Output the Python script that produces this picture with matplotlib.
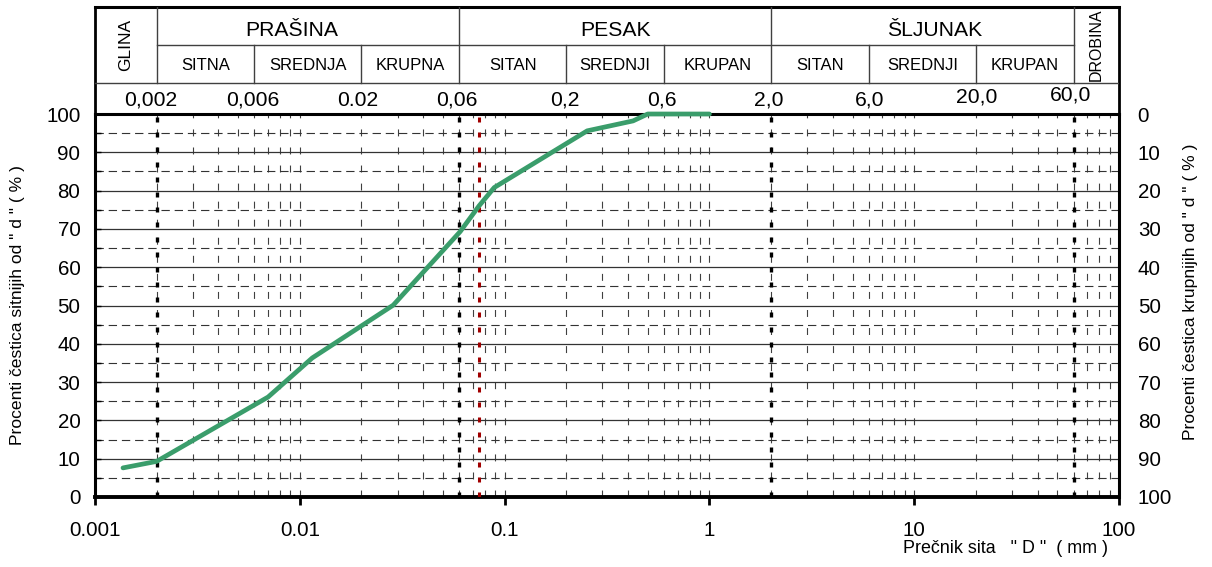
import numpy as np
import matplotlib
matplotlib.use('Agg')
import matplotlib.pyplot as plt
from matplotlib.ticker import FixedLocator, MultipleLocator, NullFormatter, LogLocator

plt.rcParams['font.family'] = ['Liberation Sans', 'DejaVu Sans']
plt.rcParams['lines.scale_dashes'] = False

# grain size curve
diameter_mm = [0.00137, 0.002, 0.0070, 0.0115, 0.0286, 0.0607, 0.075, 0.089, 0.253, 0.424, 0.50, 1.0]
passing_pct = [7.6, 9.3, 26.1, 36.3, 50.1, 69.3, 76.0, 80.8, 95.6, 98.2, 100.0, 100.0]

# classification header
bounds = [0.002, 0.006, 0.02, 0.06, 0.2, 0.6, 2.0, 6.0, 20.0, 60.0]
bound_labels = ['0,002', '0,006', '0.02', '0,06', '0,2', '0,6', '2,0', '6,0', '20,0', '60,0']
main_edges = [0.002, 0.06, 2.0, 60.0]
main_names = ['PRAŠINA', 'PESAK', 'ŠLJUNAK']
sub_names = ['SITNA', 'SREDNJA', 'KRUPNA', 'SITAN', 'SREDNJI', 'KRUPAN', 'SITAN', 'SREDNJI', 'KRUPAN']

x_ticks = [0.001, 0.01, 0.1, 1, 10, 100]
x_tick_labels = ['0.001', '0.01', '0.1', '1', '10', '100']
y_ticks = list(range(0, 101, 10))

dotted_black = [0.002, 0.06, 2.0, 60.0]
dotted_red = 0.075

W, H = 1212, 567
fig = plt.figure(figsize=(W / 100, H / 100), dpi=100)


def fx(px):
    return px / W


def fy(py):
    return 1 - py / H


# main chart
ax = fig.add_axes([fx(95), fy(497), fx(1119) - fx(95), fy(114) - fy(497)])
ax.set_xscale('log')
ax.set_xlim(0.001, 100)
ax.set_ylim(0, 100)

ax.xaxis.set_major_locator(FixedLocator(x_ticks))
ax.xaxis.set_minor_locator(LogLocator(base=10, subs=np.arange(2, 10)))
ax.xaxis.set_minor_formatter(NullFormatter())
ax.set_xticklabels(x_tick_labels)
ax.yaxis.set_major_locator(FixedLocator(y_ticks))
ax.yaxis.set_minor_locator(MultipleLocator(5))

ax.grid(which='both', axis='x', color='#404040', lw=0.8, ls=(0, (5, 8)))
ax.grid(which='major', axis='y', color='#333333', lw=0.9, ls='-')
ax.grid(which='minor', axis='y', color='#333333', lw=0.8, ls=(0, (6, 3.5)))

ax.tick_params(axis='x', which='major', direction='out', length=6, width=2,
               labelsize=14.8, pad=11.5)
ax.tick_params(axis='x', which='minor', length=0)
ax.tick_params(axis='y', which='both', direction='in', length=4, width=1,
               labelsize=14.8, pad=10.5)

for s in ax.spines.values():
    s.set_linewidth(2.2)
ax.spines['bottom'].set_linewidth(2.8)

for b in dotted_black:
    ax.axvline(b, color='black', lw=2.4, ls=(0, (3.6, 7.2)), zorder=3)
ax.axvline(dotted_red, color='#a00000', lw=2.2, ls=(0, (3.6, 7.2)), zorder=3)

ax.plot(diameter_mm, passing_pct, color='#3a9d6b', lw=3.4,
        solid_joinstyle='round', solid_capstyle='round', zorder=6, clip_on=False)

# right axis: percent coarser
ax2 = ax.twinx()
ax2.set_ylim(100, 0)
ax2.yaxis.set_major_locator(FixedLocator(y_ticks))
ax2.tick_params(axis='y', length=0, labelsize=14.8, pad=13.5)
for s in ax2.spines.values():
    s.set_visible(False)

# header table
hx = fig.add_axes([fx(95), fy(114), fx(1119) - fx(95), fy(7) - fy(114)])
hx.set_xscale('log')
hx.set_xlim(0.001, 100)
hx.set_ylim(0, 107)
hx.axis('off')

lc = '#404040'
hx.plot([0.001, 100], [107, 107], color='black', lw=2.2, clip_on=False)
hx.plot([0.001, 0.001], [0, 107], color='black', lw=2.0, clip_on=False)
hx.plot([100, 100], [0, 107], color='black', lw=2.0, clip_on=False)
hx.plot([0.001, 100], [31, 31], color=lc, lw=1.0)
hx.plot([main_edges[0], main_edges[-1]], [69, 69], color=lc, lw=1.0)
for b in bounds:
    top = 107 if b in main_edges else 69
    hx.plot([b, b], [31, top], color=lc, lw=1.0)

main_dx = [-16, 0, 12]
for name, a, b, dx in zip(main_names, main_edges[:-1], main_edges[1:], main_dx):
    hx.annotate(name, (np.sqrt(a * b), 83), xytext=(dx * 0.72, 0),
                textcoords='offset points', ha='center', va='center', fontsize=15.2)

for name, a, b in zip(sub_names, bounds[:-1], bounds[1:]):
    hx.text(np.sqrt(a * b), 49, name, ha='center', va='center', fontsize=12)

hx.text(np.sqrt(0.001 * 0.002), 69, 'GLINA', rotation=90, ha='center', va='center', fontsize=12.5)
hx.text(np.sqrt(60 * 100), 69, 'DROBINA', rotation=90, ha='center', va='center', fontsize=11.5)

num_dx = [-6, -2, -4, -2, -1, -2, -2, 1, 1, -3]
num_dy = [0, 0, 0, 0, 0, 0, 0, 0, 3, 5]
for b, lab, dx, dy in zip(bounds, bound_labels, num_dx, num_dy):
    hx.annotate(lab, (b, 14), xytext=(dx * 0.72, dy * 0.72), textcoords='offset points',
                ha='center', va='center', fontsize=15.2)

# axis titles
fig.text(fx(18), fy(305), 'Procenti čestica sitnijih od " d " ( % )', rotation=90,
         ha='center', va='center', fontsize=12.6)
fig.text(fx(1190), fy(292), 'Procenti čestica krupnijih od " d " ( % )', rotation=90,
         ha='center', va='center', fontsize=12.6)
fig.text(fx(1108), fy(553), 'Prečnik sita   " D "  ( mm )', ha='right', va='baseline',
         fontsize=12.9)

fig.savefig('out.png', dpi=100)
